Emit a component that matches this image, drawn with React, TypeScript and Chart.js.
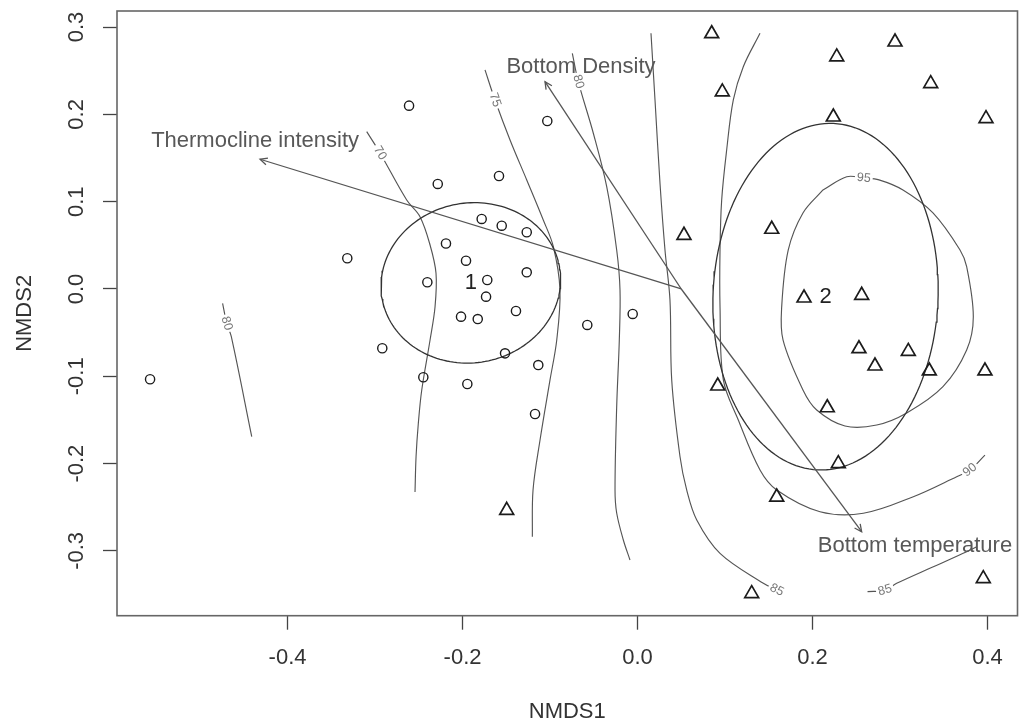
import React, { useEffect, useRef } from "react";
import { Chart, registerables } from "chart.js";

Chart.register(...registerables);

// Axis ranges and tick labels (NMDS ordination space)
const X_RANGE = [-0.5949, 0.4343];
const Y_RANGE = [-0.3742, 0.3184];
const X_TICKS = [-0.4, -0.2, 0.0, 0.2, 0.4];
const Y_TICKS = [-0.3, -0.2, -0.1, 0.0, 0.1, 0.2, 0.3];

// Site scores, cluster 1 (circles)
const GROUP1_SITES: [number, number][] = [
  [-0.5571, -0.1034], [-0.3317, 0.0352], [-0.2611, 0.21], [-0.2917, -0.0679],
  [-0.2402, 0.0077], [-0.2283, 0.1203], [-0.2189, 0.0521], [-0.196, 0.0324],
  [-0.1717, 0.0103], [-0.1731, -0.0088], [-0.2017, -0.0317], [-0.1826, -0.0344],
  [-0.1389, -0.0252], [-0.1266, 0.0191], [-0.1781, 0.0802], [-0.1552, 0.0725],
  [-0.1266, 0.065], [-0.1583, 0.1294], [-0.1031, 0.1924], [-0.1514, -0.0737],
  [-0.1134, -0.0871], [-0.1171, -0.1432], [-0.2448, -0.1011], [-0.1945, -0.1088],
  [-0.0574, -0.0412], [-0.0055, -0.0286],
];

// Site scores, cluster 2 (triangles)
const GROUP2_SITES: [number, number][] = [
  [0.0848, 0.2924], [0.2943, 0.2829], [0.2277, 0.2658], [0.3351, 0.2352],
  [0.0969, 0.2257], [0.2238, 0.197], [0.3983, 0.1951], [0.0531, 0.0615],
  [0.1534, 0.0684], [0.1903, -0.0103], [0.2562, -0.0072], [0.2531, -0.0684],
  [0.3095, -0.0714], [0.2714, -0.0882], [0.3335, -0.0939], [0.3971, -0.0939],
  [0.0917, -0.1111], [0.2169, -0.136], [0.2295, -0.2001], [-0.1495, -0.2535],
  [0.1591, -0.2383], [0.1305, -0.349], [0.3952, -0.3318],
];

// Cluster ellipses: centre, semi-axes, rotation (radians)
const ELLIPSE_LABELS = ["1", "2"];
const ELLIPSE_CENTERS: [number, number][] = [[-0.1905, 0.007], [0.2149, -0.0088]];
const ELLIPSE_AXES: [number, number][] = [[0.103, 0.0915], [0.1286, 0.1986]];
const ELLIPSE_ANGLES = [0.18, -0.045];

// Fitted environmental vectors
const VECTOR_ORIGIN: [number, number] = [0.05, 0.0];
const VECTOR_NAMES = ["Thermocline intensity", "Bottom Density", "Bottom temperature"];
const VECTOR_HEADS: [number, number][] = [[-0.4314, 0.1486], [-0.1057, 0.2375], [0.2562, -0.278]];
const VECTOR_LABEL_AT: [number, number][] = [[-0.4371, 0.1695], [-0.0646, 0.2543], [0.3171, -0.2944]];

// Surface contour lines
const CONTOUR_70: [number, number][] = [
  [-0.3095, 0.1802], [-0.2943, 0.1558], [-0.2638, 0.1019], [-0.2486, 0.0828],
  [-0.2371, 0.0504], [-0.2303, 0.018], [-0.2314, -0.0203], [-0.2371, -0.0584],
  [-0.2466, -0.1157], [-0.2505, -0.1538], [-0.2531, -0.1921], [-0.2543, -0.2325],
];
const CONTOUR_75: [number, number][] = [
  [-0.1743, 0.2509], [-0.1629, 0.2165], [-0.1457, 0.1707], [-0.1266, 0.1249],
  [-0.1077, 0.079], [-0.0962, 0.0485], [-0.0886, -0.0011], [-0.0923, -0.0584],
  [-0.1, -0.1042], [-0.1114, -0.173], [-0.1194, -0.2302], [-0.1202, -0.2837],
];
const CONTOUR_80: [number, number][] = [
  [-0.0745, 0.27], [-0.0677, 0.2375], [-0.0505, 0.1784], [-0.0352, 0.1172],
  [-0.0238, 0.0447], [-0.02, -0.0011], [-0.0208, -0.0584], [-0.0238, -0.1348],
  [-0.0257, -0.2302], [-0.0238, -0.2566], [-0.0162, -0.2875], [-0.0086, -0.3104],
];
const CONTOUR_85: [number, number][] = [
  [0.0154, 0.2929], [0.02, 0.2165], [0.0257, 0.1211], [0.0314, 0.0447],
  [0.0371, -0.0126], [0.0391, -0.1042], [0.0486, -0.1921], [0.0562, -0.2302],
  [0.0677, -0.2646], [0.0943, -0.3028], [0.1438, -0.3371], [0.1591, -0.3448],
];
const CONTOUR_90: [number, number][] = [
  [0.14, 0.2929], [0.1209, 0.2546], [0.1095, 0.2165], [0.1019, 0.1592],
  [0.0962, 0.1019], [0.0943, 0.0447], [0.0943, -0.0203], [0.0981, -0.1042],
  [0.1152, -0.1501], [0.14, -0.2073], [0.1591, -0.2302], [0.2086, -0.2551],
  [0.2581, -0.2569], [0.3152, -0.2379], [0.3648, -0.215], [0.38, -0.2073],
  [0.3971, -0.1902],
];
const CONTOUR_95: [number, number][] = [
  [0.212, 0.1134], [0.2391, 0.1286], [0.2586, 0.1271], [0.276, 0.125],
  [0.3034, 0.1134], [0.3377, 0.0871], [0.3686, 0.0447], [0.3762, 0.0255],
  [0.3838, -0.0317], [0.3762, -0.0699], [0.3491, -0.1119], [0.3077, -0.142],
  [0.2734, -0.1558], [0.2371, -0.1569], [0.2048, -0.1386], [0.1891, -0.1157],
  [0.1663, -0.0584], [0.1648, -0.0203], [0.1723, 0.0447], [0.1891, 0.0871],
  [0.212, 0.1134],
];
const CONTOUR_85_LOW: [number, number][] = [
  [0.2629, -0.3467], [0.2829, -0.345], [0.2962, -0.3371], [0.3381, -0.3181],
  [0.3762, -0.3009], [0.3877, -0.2952],
];
const CONTOUR_80_LEFT: [number, number][] = [
  [-0.4742, -0.0164], [-0.4695, -0.0393], [-0.4643, -0.0544], [-0.4409, -0.1692],
];

const CONTOUR_LEVELS = ["70", "75", "80", "85", "90", "95", "85", "80"];
const CONTOUR_LINES = [CONTOUR_70, CONTOUR_75, CONTOUR_80, CONTOUR_85, CONTOUR_90, CONTOUR_95, CONTOUR_85_LOW, CONTOUR_80_LEFT];
const CONTOUR_LABEL_INDEX = [1, 1, 1, 11, 15, 2, 1, 1];

const FONT = '"Liberation Sans", Arial, Helvetica, sans-serif';

const toXY = (pts: [number, number][]) => pts.map(([x, y]) => ({ x, y }));

function ellipsePath(c: [number, number], ax: [number, number], ang: number, n = 160) {
  const pts: { x: number; y: number }[] = [];
  for (let i = 0; i <= n; i++) {
    const t = (i / n) * Math.PI * 2;
    const ex = ax[0] * Math.cos(t);
    const ey = ax[1] * Math.sin(t);
    pts.push({
      x: c[0] + ex * Math.cos(ang) - ey * Math.sin(ang),
      y: c[1] + ex * Math.sin(ang) + ey * Math.cos(ang),
    });
  }
  return pts;
}

const CONTOUR_DATASET_OFFSET = 2 + VECTOR_HEADS.length + ELLIPSE_CENTERS.length;

const ordiPlugin = {
  id: "ordiOverlay",
  afterDatasetDraw(chart: any, args: any) {
    const ci = args.index - CONTOUR_DATASET_OFFSET;
    if (ci < 0 || ci >= CONTOUR_LINES.length) return;
    const { ctx, scales } = chart;
    const px = (v: number) => scales.x.getPixelForValue(v);
    const py = (v: number) => scales.y.getPixelForValue(v);
    const pts = CONTOUR_LINES[ci];
    const i = CONTOUR_LABEL_INDEX[ci];
    const a = pts[Math.max(0, i - 1)];
    const b = pts[Math.min(pts.length - 1, i + 1)];
    let ang = Math.atan2(py(b[1]) - py(a[1]), px(b[0]) - px(a[0]));
    if (ang > Math.PI / 2) ang -= Math.PI;
    if (ang < -Math.PI / 2) ang += Math.PI;
    ctx.save();
    ctx.translate(px(pts[i][0]), py(pts[i][1]));
    ctx.rotate(ang);
    ctx.font = `12.5px ${FONT}`;
    const w = ctx.measureText(CONTOUR_LEVELS[ci]).width;
    ctx.fillStyle = "#ffffff";
    ctx.fillRect(-w / 2 - 2, -6, w + 4, 12);
    ctx.fillStyle = "#777777";
    ctx.textAlign = "center";
    ctx.textBaseline = "middle";
    ctx.fillText(CONTOUR_LEVELS[ci], 0, 0);
    ctx.restore();
  },
  afterDatasetsDraw(chart: any) {
    const { ctx, chartArea, scales } = chart;
    const px = (v: number) => scales.x.getPixelForValue(v);
    const py = (v: number) => scales.y.getPixelForValue(v);
    ctx.save();

    // arrow heads
    ctx.strokeStyle = "#555555";
    ctx.lineWidth = 1.3;
    const ox = px(VECTOR_ORIGIN[0]);
    const oy = py(VECTOR_ORIGIN[1]);
    VECTOR_HEADS.forEach(([hx, hy]) => {
      const x = px(hx);
      const y = py(hy);
      const ang = Math.atan2(y - oy, x - ox);
      const len = 8;
      const spread = 0.45;
      ctx.beginPath();
      ctx.moveTo(x - len * Math.cos(ang - spread), y - len * Math.sin(ang - spread));
      ctx.lineTo(x, y);
      ctx.lineTo(x - len * Math.cos(ang + spread), y - len * Math.sin(ang + spread));
      ctx.stroke();
    });

    // vector names
    ctx.font = `22px ${FONT}`;
    ctx.fillStyle = "#585858";
    ctx.textAlign = "center";
    ctx.textBaseline = "middle";
    VECTOR_NAMES.forEach((name, k) => {
      ctx.fillText(name, px(VECTOR_LABEL_AT[k][0]), py(VECTOR_LABEL_AT[k][1]));
    });

    // cluster labels
    ctx.fillStyle = "#222222";
    ELLIPSE_LABELS.forEach((lab, k) => {
      ctx.fillText(lab, px(ELLIPSE_CENTERS[k][0]), py(ELLIPSE_CENTERS[k][1]));
    });

    // plot frame
    ctx.strokeStyle = "#666666";
    ctx.lineWidth = 1.6;
    ctx.strokeRect(chartArea.left, chartArea.top, chartArea.right - chartArea.left, chartArea.bottom - chartArea.top);
    ctx.restore();
  },
};

export default function App() {
  const canvasRef = useRef<HTMLCanvasElement>(null);

  useEffect(() => {
    document.body.style.margin = "0";
    const canvas = canvasRef.current;
    if (!canvas) return;

    const datasets: any[] = [
      {
        label: "cluster 1",
        data: toXY(GROUP1_SITES),
        pointStyle: "circle",
        pointRadius: 4.6,
        borderColor: "#1c1c1c",
        backgroundColor: "rgba(0,0,0,0)",
        borderWidth: 1.4,
      },
      {
        label: "cluster 2",
        data: toXY(GROUP2_SITES),
        pointStyle: "triangle",
        pointRadius: 8,
        borderColor: "#1c1c1c",
        backgroundColor: "rgba(0,0,0,0)",
        borderWidth: 1.7,
      },
      ...VECTOR_HEADS.map((h, k) => ({
        label: VECTOR_NAMES[k],
        data: toXY([VECTOR_ORIGIN, h]),
        showLine: true,
        pointRadius: 0,
        borderColor: "#555555",
        borderWidth: 1.3,
      })),
      ...ELLIPSE_CENTERS.map((c, k) => ({
        label: `ellipse ${ELLIPSE_LABELS[k]}`,
        data: ellipsePath(c, ELLIPSE_AXES[k], ELLIPSE_ANGLES[k]),
        showLine: true,
        pointRadius: 0,
        borderColor: "#333333",
        borderWidth: 1.3,
      })),
      ...CONTOUR_LINES.map((line, k) => ({
        label: `contour ${CONTOUR_LEVELS[k]}`,
        data: toXY(line),
        showLine: true,
        pointRadius: 0,
        tension: 0.35,
        borderColor: "#555555",
        borderWidth: 1.15,
      })),
    ];

    const zeroPadding = (s: any) => {
      s.paddingTop = 0;
      s.paddingBottom = 0;
      s.paddingLeft = 0;
      s.paddingRight = 0;
    };

    const axisCommon = {
      type: "linear" as const,
      grid: {
        display: true,
        drawOnChartArea: false,
        drawTicks: true,
        tickLength: 14,
        tickColor: "#444444",
        tickWidth: 1.3,
      },
      border: { display: false },
    };

    const chart = new Chart(canvas, {
      type: "scatter",
      data: { datasets },
      options: {
        animation: false,
        responsive: false,
        events: [],
        layout: { autoPadding: false, padding: { top: 11, right: 1.5, left: 0, bottom: 0 } },
        plugins: { legend: { display: false }, tooltip: { enabled: false } },
        scales: {
          x: {
            ...axisCommon,
            min: X_RANGE[0],
            max: X_RANGE[1],
            afterBuildTicks: (s: any) => {
              s.ticks = X_TICKS.map((value) => ({ value }));
            },
            afterFit: (s: any) => {
              s.height = 108.3;
              zeroPadding(s);
            },
            ticks: {
              autoSkip: false,
              maxRotation: 0,
              padding: 15,
              color: "#333333",
              font: { size: 22, family: FONT },
              callback: (v: any) => Number(v).toFixed(1),
            },
            title: {
              display: true,
              text: "NMDS1",
              color: "#333333",
              font: { size: 22, family: FONT, lineHeight: 1.1 },
              padding: { top: 0, bottom: 0 },
            },
          },
          y: {
            ...axisCommon,
            min: Y_RANGE[0],
            max: Y_RANGE[1],
            afterBuildTicks: (s: any) => {
              s.ticks = Y_TICKS.map((value) => ({ value }));
            },
            afterFit: (s: any) => {
              s.width = 117;
              zeroPadding(s);
            },
            ticks: {
              autoSkip: false,
              minRotation: 90,
              maxRotation: 90,
              crossAlign: "center",
              padding: 7,
              color: "#333333",
              font: { size: 22, family: FONT },
              callback: (v: any) => Number(v).toFixed(1),
            },
            title: {
              display: true,
              text: "NMDS2",
              color: "#333333",
              font: { size: 22, family: FONT, lineHeight: 1.1 },
              padding: { top: 13, bottom: 0 },
            },
          },
        },
      } as any,
      plugins: [ordiPlugin],
    });

    return () => chart.destroy();
  }, []);

  return (
    <div style={{ width: 1019, height: 724 }}>
      <canvas ref={canvasRef} width={1019} height={724} style={{ display: "block" }} />
    </div>
  );
}
